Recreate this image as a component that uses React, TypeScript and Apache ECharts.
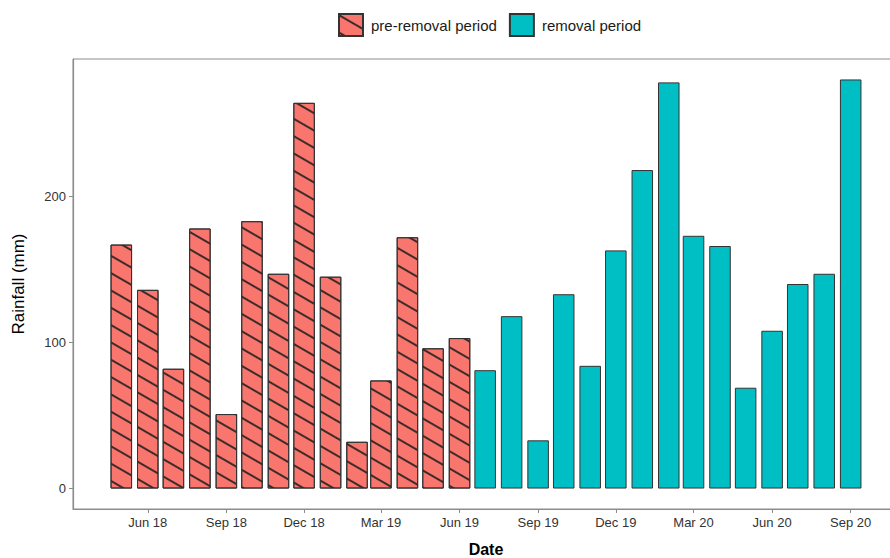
import React, { useEffect, useRef } from "react";
import * as echarts from "echarts";

// Monthly rainfall totals (mm)
const preMonths = [
  "2018-05", "2018-06", "2018-07", "2018-08", "2018-09", "2018-10", "2018-11",
  "2018-12", "2019-01", "2019-02", "2019-03", "2019-04", "2019-05", "2019-06",
];
const preRainfall = [167, 136, 82, 178, 51, 183, 147, 264, 145, 32, 74, 172, 96, 103];

const removalMonths = [
  "2019-07", "2019-08", "2019-09", "2019-10", "2019-11", "2019-12", "2020-01",
  "2020-02", "2020-03", "2020-04", "2020-05", "2020-06", "2020-07", "2020-08", "2020-09",
];
const removalRainfall = [81, 118, 33, 133, 84, 163, 218, 278, 173, 166, 69, 108, 140, 147, 280];

// Axis tick labels
const xTickMonths = [
  "2018-06", "2018-09", "2018-12", "2019-03", "2019-06",
  "2019-09", "2019-12", "2020-03", "2020-06", "2020-09",
];
const yTicks = [0, 100, 200];

const MONTH_NAMES = ["Jan", "Feb", "Mar", "Apr", "May", "Jun", "Jul", "Aug", "Sep", "Oct", "Nov", "Dec"];
const DAY = 86400000;

const toTime = (m: string) => {
  const [y, mo] = m.split("-").map(Number);
  return Date.UTC(y, mo - 1, 1);
};
const fmtMonth = (t: number) => {
  const d = new Date(t);
  return MONTH_NAMES[d.getUTCMonth()] + " " + String(d.getUTCFullYear()).slice(2);
};

const FONT = "'Liberation Sans', Arial, sans-serif";

export default function App() {
  const ref = useRef<HTMLDivElement>(null);

  useEffect(() => {
    if (!ref.current) return;
    const chart = echarts.init(ref.current, undefined, { renderer: "svg" });

    const allTimes = [...preMonths, ...removalMonths].map(toTime);
    const barDays = 0.9 * 28; // bar width in days
    const lo = Math.min(...allTimes) - (barDays / 2) * DAY;
    const hi = Math.max(...allTimes) + (barDays / 2) * DAY;
    const pad = (hi - lo) * 0.05;
    const xMin = lo - pad;
    const xMax = hi + pad;

    const gridLeft = 73;
    const gridWidth = 826;
    const barPx = (barDays * DAY * gridWidth) / (xMax - xMin);

    const yMax = Math.max(...preRainfall, ...removalRainfall);
    const yMin = -0.05 * yMax;
    const yTop = yMax * 1.05;

    chart.setOption({
      animation: false,
      textStyle: { fontFamily: FONT },
      legend: {
        top: 13,
        left: 338,
        padding: 0,
        icon: "rect",
        itemWidth: 24,
        itemHeight: 22,
        itemGap: 12,
        textStyle: { fontSize: 15, color: "#1a1a1a", fontFamily: FONT, padding: [0, 0, 0, 3] },
        data: ["pre-removal period", "removal period"],
      },
      grid: {
        left: gridLeft,
        top: 59,
        width: gridWidth,
        height: 450,
        outerBoundsMode: "none",
        containLabel: false,
        show: true,
        borderColor: "#8c8c8c",
        borderWidth: 1,
      },
      xAxis: {
        type: "value",
        min: xMin,
        max: xMax,
        splitLine: { show: false },
        axisLine: { show: true, onZero: false, lineStyle: { color: "#8c8c8c", width: 1.2 } },
        axisTick: {
          show: true,
          length: 4,
          lineStyle: { color: "#8c8c8c" },
          customValues: xTickMonths.map(toTime),
        },
        axisLabel: {
          customValues: xTickMonths.map(toTime),
          formatter: (v: number) => fmtMonth(v),
          fontSize: 13,
          color: "#333333",
          margin: 7,
        },
        name: "Date",
        nameLocation: "middle",
        nameGap: 32,
        nameTextStyle: { fontSize: 16, color: "#000", fontWeight: "bold", fontFamily: FONT, lineHeight: 16 },
      },
      yAxis: {
        type: "value",
        min: yMin,
        max: yTop,
        splitLine: { show: false },
        axisLine: { show: true, onZero: false, lineStyle: { color: "#8c8c8c", width: 1.2 } },
        axisTick: {
          show: true,
          length: 4,
          lineStyle: { color: "#8c8c8c" },
          customValues: yTicks,
        },
        axisLabel: {
          customValues: yTicks,
          fontSize: 13,
          color: "#333333",
          margin: 7,
        },
        name: "Rainfall (mm)",
        nameLocation: "middle",
        nameRotate: 90,
        nameGap: 46,
        nameTextStyle: { fontSize: 17, color: "#000", fontFamily: FONT },
      },
      series: [
        {
          name: "pre-removal period",
          type: "bar",
          barWidth: barPx,
          barGap: "-100%",
          data: preMonths.map((m, i) => [toTime(m), preRainfall[i]]),
          itemStyle: {
            color: "#F8766D",
            borderColor: "#333333",
            borderWidth: 1,
            decal: {
              symbol: "rect",
              symbolSize: 1,
              dashArrayX: [1, 0],
              dashArrayY: [1.5, 13],
              rotation: Math.PI / 6,
              color: "rgba(30,30,30,0.85)",
            },
          },
        },
        {
          name: "removal period",
          type: "bar",
          barWidth: barPx,
          barGap: "-100%",
          data: removalMonths.map((m, i) => [toTime(m), removalRainfall[i]]),
          itemStyle: {
            color: "#00BFC4",
            borderColor: "#333333",
            borderWidth: 1,
          },
        },
      ],
    });

    return () => chart.dispose();
  }, []);

  return (
    <div
      ref={ref}
      style={{ position: "fixed", left: 0, top: 0, width: 890, height: 558, background: "#fff" }}
    />
  );
}
